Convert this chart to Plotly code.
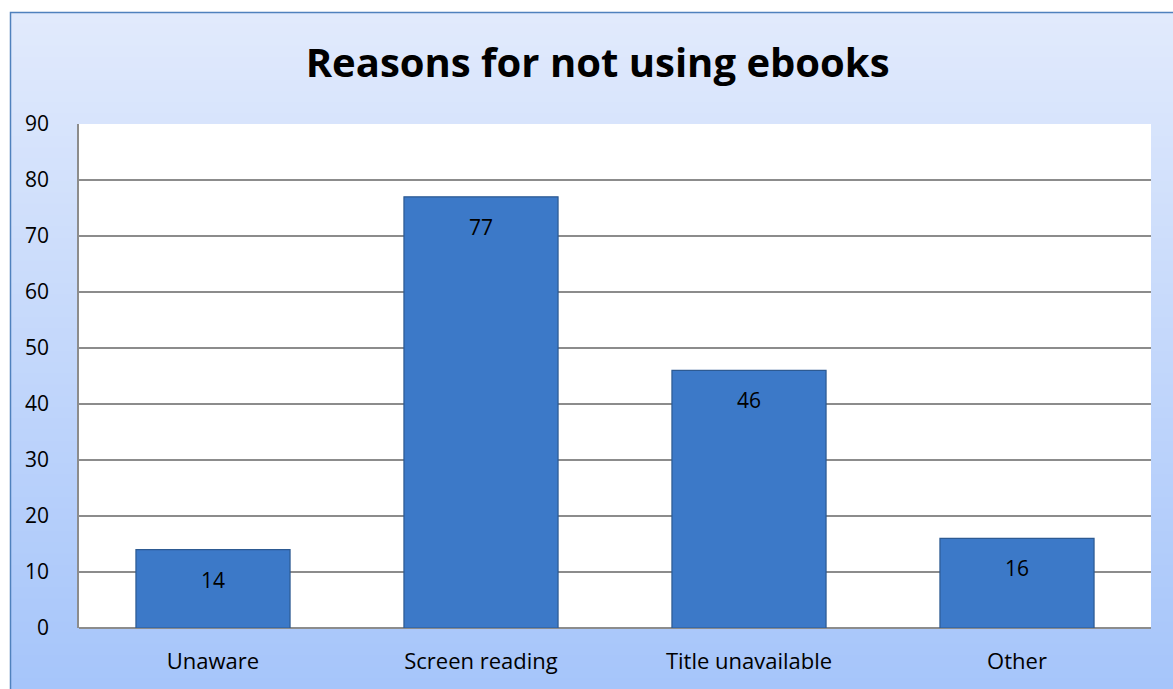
import plotly.graph_objects as go

categories = ["Unaware", "Screen reading", "Title unavailable", "Other"]
values = [14, 77, 46, 16]
title_text = "Reasons for not using ebooks"
y_ticks = [0, 10, 20, 30, 40, 50, 60, 70, 80, 90]

W, H = 1173, 689
ml, mr, mt, mb = 79, 22, 124, 61
pw, ph = W - ml - mr, H - mt - mb

def px_to_paper_x(px):
    return (px - ml) / pw

def px_to_paper_y(py):
    return (H - mb - py) / ph

fig = go.Figure()
fig.add_trace(go.Bar(
    x=categories, y=values,
    marker=dict(color="#3c79c8", line=dict(color="#2d5a92", width=1.2)),
    width=0.575,
    hoverinfo="skip",
))

for c, v in zip(categories, values):
    fig.add_annotation(x=c, y=v, xref="x", yref="y", text=str(v),
                       showarrow=False, yshift=-30, yanchor="middle",
                       font=dict(size=21, color="black", family="Open Sans"))

shapes = []
# gradient background
top_px, bot_px = 12, H
n = 60
c0 = (225, 234, 252)
c1 = (166, 197, 250)
for i in range(n):
    t = i / (n - 1)
    col = tuple(int(round(c0[k] + (c1[k] - c0[k]) * t)) for k in range(3))
    y_a = top_px + (bot_px - top_px) * i / n
    y_b = top_px + (bot_px - top_px) * (i + 1) / n + 1
    shapes.append(dict(type="rect", xref="paper", yref="paper", layer="below",
                       x0=px_to_paper_x(10), x1=px_to_paper_x(W + 5),
                       y0=px_to_paper_y(y_b), y1=px_to_paper_y(y_a),
                       line=dict(width=0), fillcolor="rgb(%d,%d,%d)" % col))
# outer border
shapes.append(dict(type="rect", xref="paper", yref="paper", layer="below",
                   x0=px_to_paper_x(10.5), x1=px_to_paper_x(W + 5),
                   y0=px_to_paper_y(H + 5), y1=px_to_paper_y(12.5),
                   line=dict(width=1.5, color="#4f81bd"), fillcolor="rgba(0,0,0,0)"))
# plot area white
shapes.append(dict(type="rect", xref="paper", yref="paper", layer="below",
                   x0=0, x1=1, y0=0, y1=1, line=dict(width=0), fillcolor="white"))

fig.update_layout(
    width=W, height=H,
    margin=dict(l=ml, r=mr, t=mt, b=mb),
    paper_bgcolor="white",
    plot_bgcolor="rgba(0,0,0,0)",
    shapes=shapes,
    showlegend=False,
    title=dict(text="<b>" + title_text + "</b>", x=0.5095, xanchor="center",
               y=1 - 63 / H, yanchor="middle",
               font=dict(size=40, family="Open Sans", color="black")),
    xaxis=dict(showgrid=False, showline=False, ticks="",
               tickfont=dict(size=22, family="Open Sans", color="black"),
               ticklabelstandoff=18),
    yaxis=dict(range=[0, 90], tickvals=y_ticks, showgrid=True,
               gridcolor="#8c8c8c", gridwidth=1.5,
               showline=True, linecolor="#8c8c8c", linewidth=1.5,
               zeroline=True, zerolinecolor="#8c8c8c", zerolinewidth=1.5,
               ticks="", tickfont=dict(size=21, family="Open Sans", color="black"),
               ticklabelstandoff=24),
    font=dict(family="Open Sans"),
)

fig.write_html("out.html")
